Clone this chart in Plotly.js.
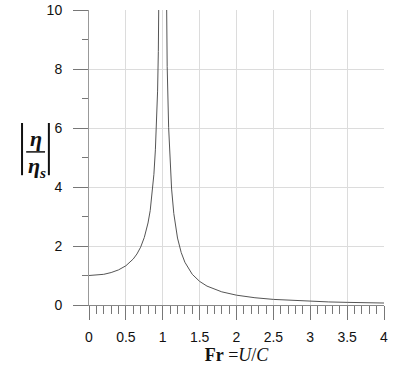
<!DOCTYPE html>
<html><head><meta charset="utf-8">
<script src="https://cdn.plot.ly/plotly-3.0.1.min.js"></script>
<style>html,body{margin:0;padding:0;background:#fff}#chart{width:399px;height:371px}</style>
</head><body><div id="chart"></div>
<script>
// Fr values and |eta/eta_s| values (left branch, below resonance)
var frLeft  = [0, 0.1, 0.2, 0.3, 0.4, 0.5, 0.6, 0.65, 0.7, 0.75, 0.8, 0.83, 0.86, 0.88, 0.9, 0.92, 0.93, 0.94, 0.95, 0.96, 0.97];
var ampLeft = [1.0, 1.01, 1.04, 1.10, 1.19, 1.33, 1.56, 1.73, 1.96, 2.29, 2.78, 3.2, 3.84, 4.43, 5.26, 6.51, 7.25, 8.59, 10.26, 12.76, 16.9];
// right branch, above resonance
var frRight  = [1.03, 1.04, 1.05, 1.06, 1.08, 1.1, 1.12, 1.15, 1.2, 1.25, 1.3, 1.4, 1.5, 1.6, 1.7, 1.8, 2.0, 2.25, 2.5, 2.75, 3.0, 3.25, 3.5, 3.75, 4.0];
var ampRight = [16.4, 12.3, 9.76, 8.09, 6.01, 4.76, 3.93, 3.10, 2.27, 1.78, 1.45, 1.04, 0.80, 0.64, 0.53, 0.446, 0.333, 0.246, 0.19, 0.153, 0.125, 0.104, 0.089, 0.077, 0.067];
var xTickVals = [0, 0.5, 1, 1.5, 2, 2.5, 3, 3.5, 4];
var xTickText = ['0', '0.5', '1', '1.5', '2', '2.5', '3', '3.5', '4'];
var yTickVals = [0, 2, 4, 6, 8, 10];
var yTickText = ['0', '2', '4', '6', '8', '10'];

var lineStyle = {color: '#555555', width: 1};
var traces = [
  {x: frLeft, y: ampLeft, mode: 'lines', line: lineStyle, hoverinfo: 'skip'},
  {x: frRight, y: ampRight, mode: 'lines', line: lineStyle, hoverinfo: 'skip'}
];
var font = {family: 'Liberation Sans, Arial, sans-serif', size: 14, color: '#111'};
var serif = 'Liberation Serif, Times New Roman, serif';
var layout = {
  width: 399, height: 371,
  margin: {l: 89, r: 15, t: 10, b: 66},
  paper_bgcolor: '#fff', plot_bgcolor: '#fff',
  showlegend: false,
  font: font,
  xaxis: {
    range: [0, 4], tickmode: 'array', tickvals: xTickVals, ticktext: xTickText,
    ticks: 'outside', ticklen: 14, tickwidth: 1, tickcolor: '#777',
    minor: {dtick: 0.1, ticks: 'outside', ticklen: 8, tickcolor: '#777', tickwidth: 1, showgrid: false},
    showgrid: true, gridcolor: '#dcdcdc', gridwidth: 1,
    zeroline: false, showline: true, linecolor: '#888', linewidth: 1,
    ticklabelstandoff: 5, tickfont: font,
    title: {text: '<b>Fr</b> =<i>U</i>/<i>C</i>', font: {family: serif, size: 18, color: '#111'}, standoff: 3}
  },
  yaxis: {
    range: [0, 10], tickmode: 'array', tickvals: yTickVals, ticktext: yTickText,
    ticks: 'outside', ticklen: 15, tickwidth: 1, tickcolor: '#777',
    minor: {dtick: 1, ticks: 'outside', ticklen: 6, tickcolor: '#777', tickwidth: 1, showgrid: false},
    showgrid: true, gridcolor: '#dcdcdc', gridwidth: 1,
    zeroline: false, showline: true, linecolor: '#999', linewidth: 1,
    ticklabelstandoff: 8, tickfont: font
  },
  annotations: [
    {xref: 'paper', yref: 'paper', x: -0.18, y: 0.565, xanchor: 'center', yanchor: 'middle', text: '<b><i>η</i></b>', showarrow: false,
     font: {family: serif, size: 22, color: '#111'}},
    {xref: 'paper', yref: 'paper', x: -0.175, y: 0.468, xanchor: 'center', yanchor: 'middle', text: '<b><i>η<sub>s</sub></i></b>', showarrow: false,
     font: {family: serif, size: 22, color: '#111'}}
  ],
  shapes: [
    {type: 'line', xref: 'paper', yref: 'paper', x0: -0.213, x1: -0.149, y0: 0.519, y1: 0.519, line: {color: '#111', width: 1.5}},
    {type: 'line', xref: 'paper', yref: 'paper', x0: -0.227, x1: -0.227, y0: 0.44, y1: 0.617, line: {color: '#111', width: 2}},
    {type: 'line', xref: 'paper', yref: 'paper', x0: -0.136, x1: -0.136, y0: 0.44, y1: 0.617, line: {color: '#111', width: 2}}
  ]
};
Plotly.newPlot('chart', traces, layout, {staticPlot: true, displayModeBar: false});
</script></body></html>
